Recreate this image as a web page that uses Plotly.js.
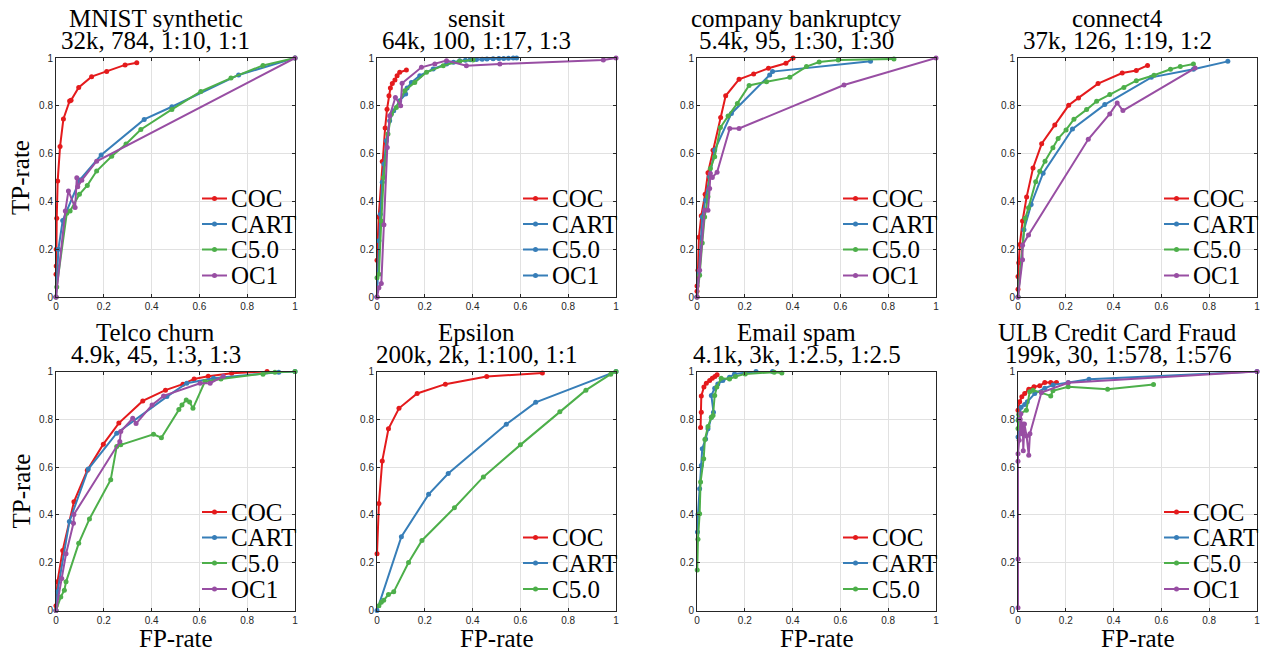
<!DOCTYPE html>
<html>
<head>
<meta charset="utf-8">
<script src="https://cdn.plot.ly/plotly-3.0.1.min.js"></script>
<style>html,body{margin:0;padding:0;background:#fff;}#chart{width:1262px;height:650px;}</style>
</head>
<body>
<div id="chart"></div>
<script>
// ---------- DATA ----------
const seriesNames = ['COC', 'CART', 'C5.0', 'OC1'];
const tickVals = [0, 0.2, 0.4, 0.6, 0.8, 1];
const tickText = ['0', '0.2', '0.4', '0.6', '0.8', '1'];

const titlesLine1 = ['MNIST synthetic', 'sensit', 'company bankruptcy', 'connect4',
                     'Telco churn', 'Epsilon', 'Email spam', 'ULB Credit Card Fraud'];
const titlesLine2 = ['32k, 784, 1:10, 1:1', '64k, 100, 1:17, 1:3', '5.4k, 95, 1:30, 1:30', '37k, 126, 1:19, 1:2',
                     '4.9k, 45, 1:3, 1:3', '200k, 2k, 1:100, 1:1', '4.1k, 3k, 1:2.5, 1:2.5', '199k, 30, 1:578, 1:576'];

// MNIST synthetic
const mnist_coc_x = [0, 0, 0.001, 0.001, 0.003, 0.007, 0.017, 0.031, 0.057, 0.063, 0.095, 0.149, 0.212, 0.289, 0.338];
const mnist_coc_y = [0, 0.095, 0.13, 0.2, 0.33, 0.485, 0.63, 0.745, 0.82, 0.823, 0.877, 0.922, 0.944, 0.971, 0.98];
const mnist_cart_x = [0, 0.01, 0.028, 0.1, 0.189, 0.369, 0.485, 0.764, 1];
const mnist_cart_y = [0, 0.2, 0.32, 0.49, 0.594, 0.743, 0.796, 0.929, 1];
const mnist_c50_x = [0, 0.003, 0.045, 0.059, 0.098, 0.131, 0.17, 0.233, 0.293, 0.355, 0.485, 0.606, 0.732, 0.866, 1];
const mnist_c50_y = [0, 0.042, 0.35, 0.36, 0.43, 0.467, 0.527, 0.589, 0.64, 0.701, 0.785, 0.86, 0.916, 0.969, 1];
const mnist_oc1_x = [0, 0.039, 0.052, 0.08, 0.087, 0.091, 0.108, 0.17, 1];
const mnist_oc1_y = [0, 0.36, 0.444, 0.374, 0.499, 0.461, 0.489, 0.568, 1];

// sensit
const sensit_coc_x = [0, 0, 0.007, 0.022, 0.034, 0.042, 0.05, 0.056, 0.064, 0.075, 0.084, 0.095, 0.123];
const sensit_coc_y = [0, 0.154, 0.335, 0.567, 0.707, 0.786, 0.842, 0.874, 0.893, 0.908, 0.926, 0.94, 0.95];
const sensit_cart_x = [0, 0.008, 0.014, 0.022, 0.029, 0.039, 0.053, 0.07, 0.095, 0.12, 0.126, 0.144, 0.179, 0.235, 0.291, 0.32, 0.346, 0.37, 0.39, 0.416, 0.44, 0.46, 0.486, 0.51, 0.53, 0.55, 0.57, 0.584];
const sensit_cart_y = [0, 0.235, 0.346, 0.48, 0.556, 0.654, 0.737, 0.779, 0.821, 0.849, 0.874, 0.898, 0.926, 0.954, 0.975, 0.982, 0.989, 0.991, 0.993, 0.994, 0.995, 0.996, 0.997, 0.998, 0.998, 0.999, 1.0, 1.0];
const sensit_c50_x = [0, 0.008, 0.018, 0.028, 0.046, 0.06, 0.081, 0.116, 0.158, 0.207, 0.277, 0.346, 0.402];
const sensit_c50_y = [0.081, 0.095, 0.318, 0.5, 0.682, 0.765, 0.793, 0.863, 0.898, 0.94, 0.968, 0.986, 0.992];
const sensit_oc1_x = [0, 0.008, 0.018, 0.029, 0.043, 0.053, 0.077, 0.099, 0.105, 0.186, 0.242, 0.291, 0.374, 0.514, 0.947, 1];
const sensit_oc1_y = [0, 0.039, 0.056, 0.302, 0.626, 0.758, 0.835, 0.8, 0.894, 0.961, 0.975, 0.989, 0.968, 0.975, 0.992, 1];

// company bankruptcy
const bank_coc_x = [0, 0, 0, 0.004, 0.008, 0.018, 0.034, 0.046, 0.067, 0.099, 0.12, 0.176, 0.237, 0.299, 0.372, 0.402];
const bank_coc_y = [0, 0.024, 0.046, 0.112, 0.25, 0.34, 0.43, 0.52, 0.614, 0.751, 0.842, 0.911, 0.933, 0.957, 0.978, 1.0];
const bank_cart_x = [0, 0.008, 0.022, 0.036, 0.053, 0.074, 0.144, 0.304, 0.316, 0.726];
const bank_cart_y = [0, 0.098, 0.335, 0.405, 0.503, 0.615, 0.768, 0.929, 0.943, 0.986];
const bank_c50_x = [0, 0.011, 0.022, 0.032, 0.046, 0.056, 0.074, 0.098, 0.13, 0.169, 0.218, 0.291, 0.388, 0.458, 0.511, 0.591, 0.824];
const bank_c50_y = [0, 0.091, 0.226, 0.335, 0.419, 0.538, 0.587, 0.709, 0.757, 0.81, 0.885, 0.901, 0.919, 0.964, 0.983, 0.992, 0.996];
const bank_oc1_x = [0, 0.011, 0.032, 0.046, 0.053, 0.056, 0.064, 0.084, 0.137, 0.176, 0.615, 1];
const bank_oc1_y = [0, 0.112, 0.363, 0.363, 0.454, 0.517, 0.5, 0.522, 0.705, 0.705, 0.887, 1];

// connect4
const c4_coc_x = [0, 0, 0.003, 0.008, 0.019, 0.036, 0.063, 0.099, 0.154, 0.212, 0.253, 0.335, 0.436, 0.495, 0.542];
const c4_coc_y = [0.032, 0.086, 0.143, 0.22, 0.318, 0.418, 0.54, 0.641, 0.72, 0.802, 0.833, 0.893, 0.937, 0.948, 0.969];
const c4_cart_x = [0, 0.025, 0.055, 0.105, 0.228, 0.363, 0.558, 0.734, 0.878];
const c4_cart_y = [0, 0.281, 0.387, 0.518, 0.703, 0.805, 0.919, 0.953, 0.986];
const c4_c50_x = [0, 0.03, 0.044, 0.074, 0.091, 0.113, 0.146, 0.168, 0.201, 0.234, 0.287, 0.329, 0.384, 0.443, 0.495, 0.569, 0.638, 0.679, 0.734];
const c4_c50_y = [0, 0.329, 0.373, 0.482, 0.526, 0.568, 0.624, 0.663, 0.699, 0.744, 0.784, 0.819, 0.847, 0.877, 0.905, 0.928, 0.953, 0.964, 0.975];
const c4_oc1_x = [0, 0.019, 0.019, 0.044, 0.294, 0.384, 0.415, 0.439, 0.741];
const c4_oc1_y = [0, 0.156, 0.217, 0.259, 0.66, 0.766, 0.812, 0.78, 0.958];

// Telco churn
const telco_coc_x = [0, 0.006, 0.028, 0.075, 0.131, 0.198, 0.263, 0.363, 0.458, 0.531, 0.578, 0.637, 0.735, 0.883];
const telco_coc_y = [0.02, 0.12, 0.251, 0.455, 0.587, 0.696, 0.784, 0.877, 0.922, 0.947, 0.969, 0.98, 0.993, 1.0];
const telco_cart_x = [0, 0.006, 0.056, 0.135, 0.254, 0.464, 0.547, 0.659, 0.932, 1];
const telco_cart_y = [0, 0.078, 0.372, 0.592, 0.742, 0.895, 0.951, 0.972, 0.997, 1];
const telco_c50_x = [0, 0.02, 0.035, 0.042, 0.095, 0.14, 0.229, 0.254, 0.271, 0.408, 0.441, 0.514, 0.527, 0.545, 0.559, 0.573, 0.623, 0.69, 0.866, 0.916, 1];
const telco_c50_y = [0, 0.057, 0.085, 0.12, 0.281, 0.383, 0.547, 0.686, 0.693, 0.737, 0.723, 0.841, 0.86, 0.881, 0.872, 0.846, 0.958, 0.969, 0.989, 0.997, 1];
const telco_oc1_x = [0, 0.024, 0.042, 0.073, 0.075, 0.267, 0.271, 0.321, 0.335, 0.402, 0.45, 0.603, 0.645, 0.7];
const telco_oc1_y = [0, 0.134, 0.237, 0.365, 0.402, 0.707, 0.749, 0.804, 0.782, 0.86, 0.898, 0.951, 0.951, 0.98];

// Epsilon
const eps_coc_x = [0, 0.008, 0.022, 0.048, 0.092, 0.168, 0.286, 0.459, 0.692];
const eps_coc_y = [0.237, 0.448, 0.626, 0.76, 0.846, 0.908, 0.947, 0.979, 0.994];
const eps_cart_x = [0, 0.102, 0.216, 0.298, 0.541, 0.664, 1];
const eps_cart_y = [0, 0.309, 0.486, 0.573, 0.779, 0.871, 1];
const eps_c50_x = [0.008, 0.018, 0.028, 0.048, 0.07, 0.132, 0.188, 0.324, 0.445, 0.6, 0.765, 0.874, 0.978, 1];
const eps_c50_y = [0.02, 0.034, 0.043, 0.067, 0.078, 0.201, 0.293, 0.43, 0.559, 0.693, 0.832, 0.922, 0.989, 1];

// Email spam
const spam_coc_x = [0.015, 0.018, 0.018, 0.029, 0.039, 0.053, 0.064, 0.075, 0.084];
const spam_coc_y = [0.766, 0.83, 0.897, 0.935, 0.951, 0.962, 0.972, 0.979, 0.986];
const spam_cart_x = [0.002, 0.004, 0.011, 0.018, 0.022, 0.036, 0.046, 0.06, 0.069, 0.06, 0.074, 0.087, 0.108, 0.136, 0.157, 0.247, 0.316];
const spam_cart_y = [0.328, 0.402, 0.509, 0.607, 0.677, 0.718, 0.76, 0.809, 0.83, 0.9, 0.93, 0.948, 0.962, 0.976, 0.99, 1.0, 1.0];
const spam_c50_x = [0.001, 0.004, 0.011, 0.015, 0.028, 0.033, 0.046, 0.06, 0.067, 0.074, 0.083, 0.101, 0.136, 0.161, 0.202, 0.323, 0.355];
const spam_c50_y = [0.169, 0.298, 0.405, 0.538, 0.635, 0.716, 0.77, 0.808, 0.816, 0.9, 0.935, 0.972, 0.969, 0.979, 0.99, 0.997, 0.994];

// ULB Credit Card Fraud
const ulb_coc_x = [0, 0.007, 0.016, 0.028, 0.045, 0.067, 0.091, 0.112, 0.137, 0.161];
const ulb_coc_y = [0.838, 0.873, 0.894, 0.908, 0.926, 0.936, 0.94, 0.954, 0.954, 0.954];
const ulb_cart_x = [0, 0.003, 0.013, 0.028, 0.039, 0.07, 0.112, 0.147, 0.21, 0.297, 1];
const ulb_cart_y = [0.726, 0.803, 0.85, 0.862, 0.873, 0.908, 0.93, 0.944, 0.954, 0.968, 1];
const ulb_c50_x = [0, 0, 0.003, 0.035, 0.049, 0.063, 0.098, 0.137, 0.146, 0.21, 0.375, 0.567];
const ulb_c50_y = [0.761, 0.796, 0.82, 0.838, 0.915, 0.922, 0.912, 0.898, 0.919, 0.936, 0.926, 0.946];
const ulb_oc1_x = [0, 0, 0, 0, 0.005, 0.009, 0.012, 0.016, 0.02, 0.022, 0.027, 0.036, 0.045, 0.05, 0.098, 0.21, 1];
const ulb_oc1_y = [0.012, 0.215, 0.625, 0.656, 0.712, 0.8, 0.823, 0.74, 0.78, 0.668, 0.78, 0.73, 0.65, 0.74, 0.912, 0.953, 1];

// ---------- STYLE ----------
const RED = '#e41a1c', BLUE = '#377eb8', GREEN = '#4daf4a', PURPLE = '#984ea3';
const seriesColors = [RED, BLUE, GREEN, PURPLE];
const SERIF = '"Liberation Serif", "Times New Roman", serif';
const SANS = '"Liberation Sans", Arial, sans-serif';
const AXC = '#262626';

const panels = [
  {s: [[mnist_coc_x, mnist_coc_y], [mnist_cart_x, mnist_cart_y], [mnist_c50_x, mnist_c50_y], [mnist_oc1_x, mnist_oc1_y]], leg: [RED, BLUE, GREEN, PURPLE]},
  {s: [[sensit_coc_x, sensit_coc_y], [sensit_cart_x, sensit_cart_y], [sensit_c50_x, sensit_c50_y], [sensit_oc1_x, sensit_oc1_y]], leg: [RED, BLUE, BLUE, BLUE]},
  {s: [[bank_coc_x, bank_coc_y], [bank_cart_x, bank_cart_y], [bank_c50_x, bank_c50_y], [bank_oc1_x, bank_oc1_y]], leg: [RED, BLUE, GREEN, PURPLE]},
  {s: [[c4_coc_x, c4_coc_y], [c4_cart_x, c4_cart_y], [c4_c50_x, c4_c50_y], [c4_oc1_x, c4_oc1_y]], leg: [RED, BLUE, GREEN, PURPLE]},
  {s: [[telco_coc_x, telco_coc_y], [telco_cart_x, telco_cart_y], [telco_c50_x, telco_c50_y], [telco_oc1_x, telco_oc1_y]], leg: [RED, BLUE, GREEN, PURPLE]},
  {s: [[eps_coc_x, eps_coc_y], [eps_cart_x, eps_cart_y], [eps_c50_x, eps_c50_y]], leg: [RED, BLUE, GREEN]},
  {s: [[spam_coc_x, spam_coc_y], [spam_cart_x, spam_cart_y], [spam_c50_x, spam_c50_y]], leg: [RED, BLUE, GREEN]},
  {s: [[ulb_coc_x, ulb_coc_y], [ulb_cart_x, ulb_cart_y], [ulb_c50_x, ulb_c50_y], [ulb_oc1_x, ulb_oc1_y]], leg: [RED, BLUE, GREEN, PURPLE]}
];

const W = 1262, H = 650;
const colLeft = [56, 377, 697, 1018];
const rowTop = [58, 371.5];
const PW = 239, PH = 239;
const legOffsets = [98.5, 73, 47.5, 21.5]; // px above bottom of axes

const traces = [];
const layout = {
  width: W, height: H,
  margin: {l: 0, r: 0, t: 0, b: 0},
  paper_bgcolor: '#ffffff', plot_bgcolor: '#ffffff',
  showlegend: false,
  annotations: [], shapes: []
};

panels.forEach((p, i) => {
  const col = i % 4, row = Math.floor(i / 4);
  const n = i === 0 ? '' : String(i + 1);
  const xa = 'x' + n, ya = 'y' + n;
  const L = colLeft[col], T = rowTop[row];
  const axBase = {
    range: [0, 1], tickvals: tickVals, ticktext: tickText,
    ticks: 'inside', ticklen: 3, tickwidth: 1, tickcolor: AXC,
    showline: true, linecolor: AXC, linewidth: 1, mirror: 'ticks',
    showgrid: true, gridcolor: '#e1e1e1', gridwidth: 1, zeroline: false,
    tickfont: {family: SANS, size: 10, color: AXC}, fixedrange: true
  };
  layout['xaxis' + n] = Object.assign({}, axBase, {domain: [L / W, (L + PW) / W], anchor: ya});
  layout['yaxis' + n] = Object.assign({}, axBase, {domain: [1 - (T + PH) / H, 1 - T / H], anchor: xa});

  p.s.forEach((xy, k) => {
    traces.push({
      type: 'scatter', mode: 'lines+markers', x: xy[0], y: xy[1],
      xaxis: xa, yaxis: ya, name: seriesNames[k], cliponaxis: false,
      line: {color: seriesColors[k], width: 2},
      marker: {color: seriesColors[k], size: 5}, hoverinfo: 'skip'
    });
  });

  const xd = xa + ' domain', yd = ya + ' domain';
  // titles
  layout.annotations.push({xref: xd, yref: yd, x: (PW / 2 - 20) / PW, y: 1 + 39 / PH, text: titlesLine1[i],
    showarrow: false, xanchor: 'center', yanchor: 'middle', font: {family: SERIF, size: 25, color: '#000'}});
  layout.annotations.push({xref: xd, yref: yd, x: (PW / 2 - 20) / PW, y: 1 + 17.5 / PH, text: titlesLine2[i],
    showarrow: false, xanchor: 'center', yanchor: 'middle', font: {family: SERIF, size: 25, color: '#000'}});
  // axis labels
  if (col === 0) {
    layout.annotations.push({xref: 'paper', yref: yd, x: 20.5 / W, y: 0.5, text: 'TP-rate', textangle: -90,
      showarrow: false, xanchor: 'center', yanchor: 'middle', font: {family: SERIF, size: 25, color: '#000'}});
  }
  if (row === 1) {
    layout.annotations.push({xref: xd, yref: 'paper', x: 0.5, y: 1 - 638 / H, text: 'FP-rate',
      showarrow: false, xanchor: 'center', yanchor: 'middle', font: {family: SERIF, size: 25, color: '#000'}});
  }
  // custom legend (bottom-right, inside)
  const nItems = p.leg.length;
  p.leg.forEach((c, k) => {
    const off = legOffsets[4 - nItems + k];
    const yv = off / PH;
    layout.shapes.push({type: 'line', xref: xd, yref: yd, x0: 146 / PW, x1: 171 / PW, y0: yv, y1: yv,
      line: {color: c, width: 2}});
    layout.shapes.push({type: 'circle', xref: xd, yref: yd, xsizemode: 'pixel', ysizemode: 'pixel',
      xanchor: 158.5 / PW, yanchor: yv, x0: -2.5, x1: 2.5, y0: -2.5, y1: 2.5,
      fillcolor: c, line: {width: 0}});
    layout.annotations.push({xref: xd, yref: yd, x: 172.5 / PW, y: yv, text: seriesNames[k],
      showarrow: false, xanchor: 'left', yanchor: 'middle', font: {family: SERIF, size: 25, color: '#000'}});
  });
});

Plotly.newPlot('chart', traces, layout, {displayModeBar: false, staticPlot: true});
</script>
</body>
</html>
